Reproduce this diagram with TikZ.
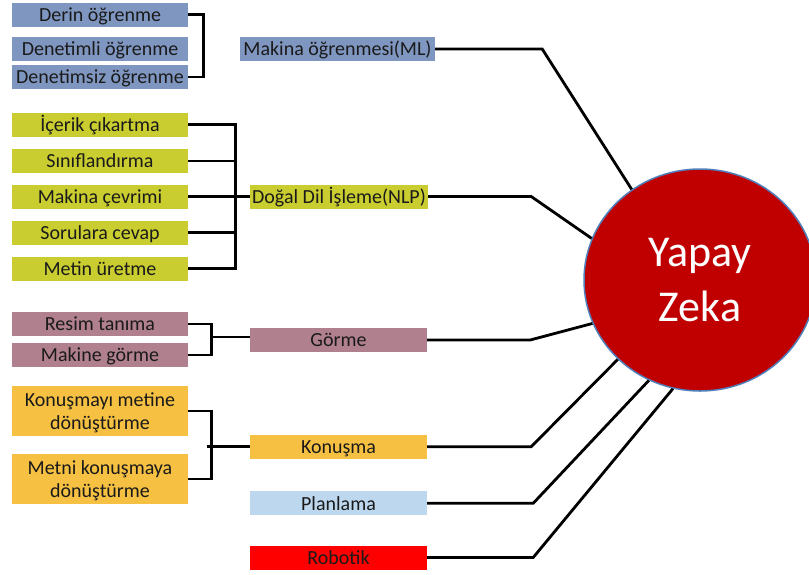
\documentclass[tikz,border=0pt]{standalone}
\usepackage{fontspec}
\setmainfont{Carlito}
\usetikzlibrary{shapes.geometric}
\definecolor{mlblue}{HTML}{7F96C0}
\definecolor{nlpgreen}{HTML}{C9CD2F}
\definecolor{mauve}{HTML}{B0808F}
\definecolor{speechorange}{HTML}{F6C142}
\definecolor{planblue}{HTML}{BDD7EE}
\definecolor{robred}{HTML}{FF0000}
\definecolor{aired}{HTML}{C00000}
\definecolor{rimblue}{HTML}{4F81BD}
\definecolor{inktext}{HTML}{1A1A1A}
\newcommand{\topstrut}{\rule{0pt}{17pt}}
\begin{document}
\begin{tikzpicture}[x=1pt,y=-1pt,
  box/.style={rectangle, inner sep=0pt, minimum height=24pt, text=inktext,
    font=\fontsize{20}{23.3}\selectfont, align=center},
  single/.style={text height=16.5pt, text depth=3pt},
  leaf/.style={box, single, minimum width=176pt},
  tallleaf/.style={box, minimum width=176pt, minimum height=50pt},
  hub/.style={box, single, minimum width=177pt},
  link/.style={line width=2.8pt, black}]
\clip (0,0) rectangle (809,574);
\fill[white] (0,0) rectangle (809,574);

% Machine learning branch
\node[leaf, fill=mlblue] (ml1) at (100,14.5) {Derin öğrenme};
\node[leaf, fill=mlblue] (ml2) at (100,49) {Denetimli öğrenme};
\node[leaf, fill=mlblue] (ml3) at (100,77) {Denetimsiz öğrenme};
\node[box, single, fill=mlblue, minimum width=195pt] (ml) at (337.5,49) {Makina öğrenmesi(ML)};
\draw[link] (ml1.east) -- ++(15,0) |- (ml3.east);

% Natural language processing branch
\node[leaf, fill=nlpgreen] (n1) at (100,124.5) {İçerik çıkartma};
\node[leaf, fill=nlpgreen] (n2) at (100,161) {Sınıflandırma};
\node[leaf, fill=nlpgreen] (n3) at (100,196.5) {Makina çevrimi};
\node[leaf, fill=nlpgreen] (n4) at (100,232.5) {Sorulara cevap};
\node[leaf, fill=nlpgreen] (n5) at (100,268.5) {Metin üretme};
\node[box, single, fill=nlpgreen, minimum width=178pt] (nlp) at (339,196.5) {Doğal Dil İşleme(NLP)};
\foreach \k in {n1,n2,n4,n5} \draw[link] (\k.east) -- ++(49,0);
\draw[link] ([xshift=47pt]n1.east) -- ([xshift=47pt]n5.east);
\draw[link] (n3.east) -- (nlp.west);

% Vision branch
\node[leaf, fill=mauve] (g1) at (100,324) {Resim tanıma};
\node[leaf, fill=mauve] (g2) at (100,355) {Makine görme};
\node[hub, fill=mauve] (gorme) at (338.5,340) {Görme};
\draw[link] (g1.east) -- ++(23,0) |- (g2.east);
\coordinate (gm) at (211,337);
\draw[link] (gm) -- (gm -| gorme.west);

% Speech branch
\node[tallleaf, fill=speechorange] (k1) at (100,411) {\topstrut Konuşmayı metine\\dönüştürme};
\node[tallleaf, fill=speechorange] (k2) at (100,479) {\topstrut Metni konuşmaya\\dönüştürme};
\node[hub, fill=speechorange] (kon) at (338.5,446.7) {Konuşma};
\draw[link] (k1.east) -- ++(23,0) |- (k2.east);
\coordinate (km) at (207,446.7);
\draw[link] (km) -- (kon.west);

% Planning and robotics
\node[hub, fill=planblue] (plan) at (338.5,503.3) {Planlama};
\node[hub, fill=robred] (rob) at (338.5,557.5) {Robotik};

% Central concept
\node[ellipse, fill=aired, draw=rimblue, line width=1.5pt, minimum width=232pt,
  minimum height=222pt, inner sep=0pt, text=white, align=center,
  font=\fontsize{44}{55}\selectfont] (yz) at (700,280) {Yapay\\Zeka};

% Links to the centre
\draw[link] (ml.east) -- ++(107,0) -- (yz.127.4);
\draw[link] (nlp.east) -- ++(103,0) -- (yz.159);
\draw[link] (gorme.east) -- ++(103,0) -- (yz.202);
\draw[link] (kon.east) -- ++(104,0) -- (yz.224.6);
\draw[link] (plan.east) -- ++(106,0) -- (yz.243.2);
\draw[link] (rob.east) -- ++(106,0) -- (yz.256.6);
\end{tikzpicture}
\end{document}
